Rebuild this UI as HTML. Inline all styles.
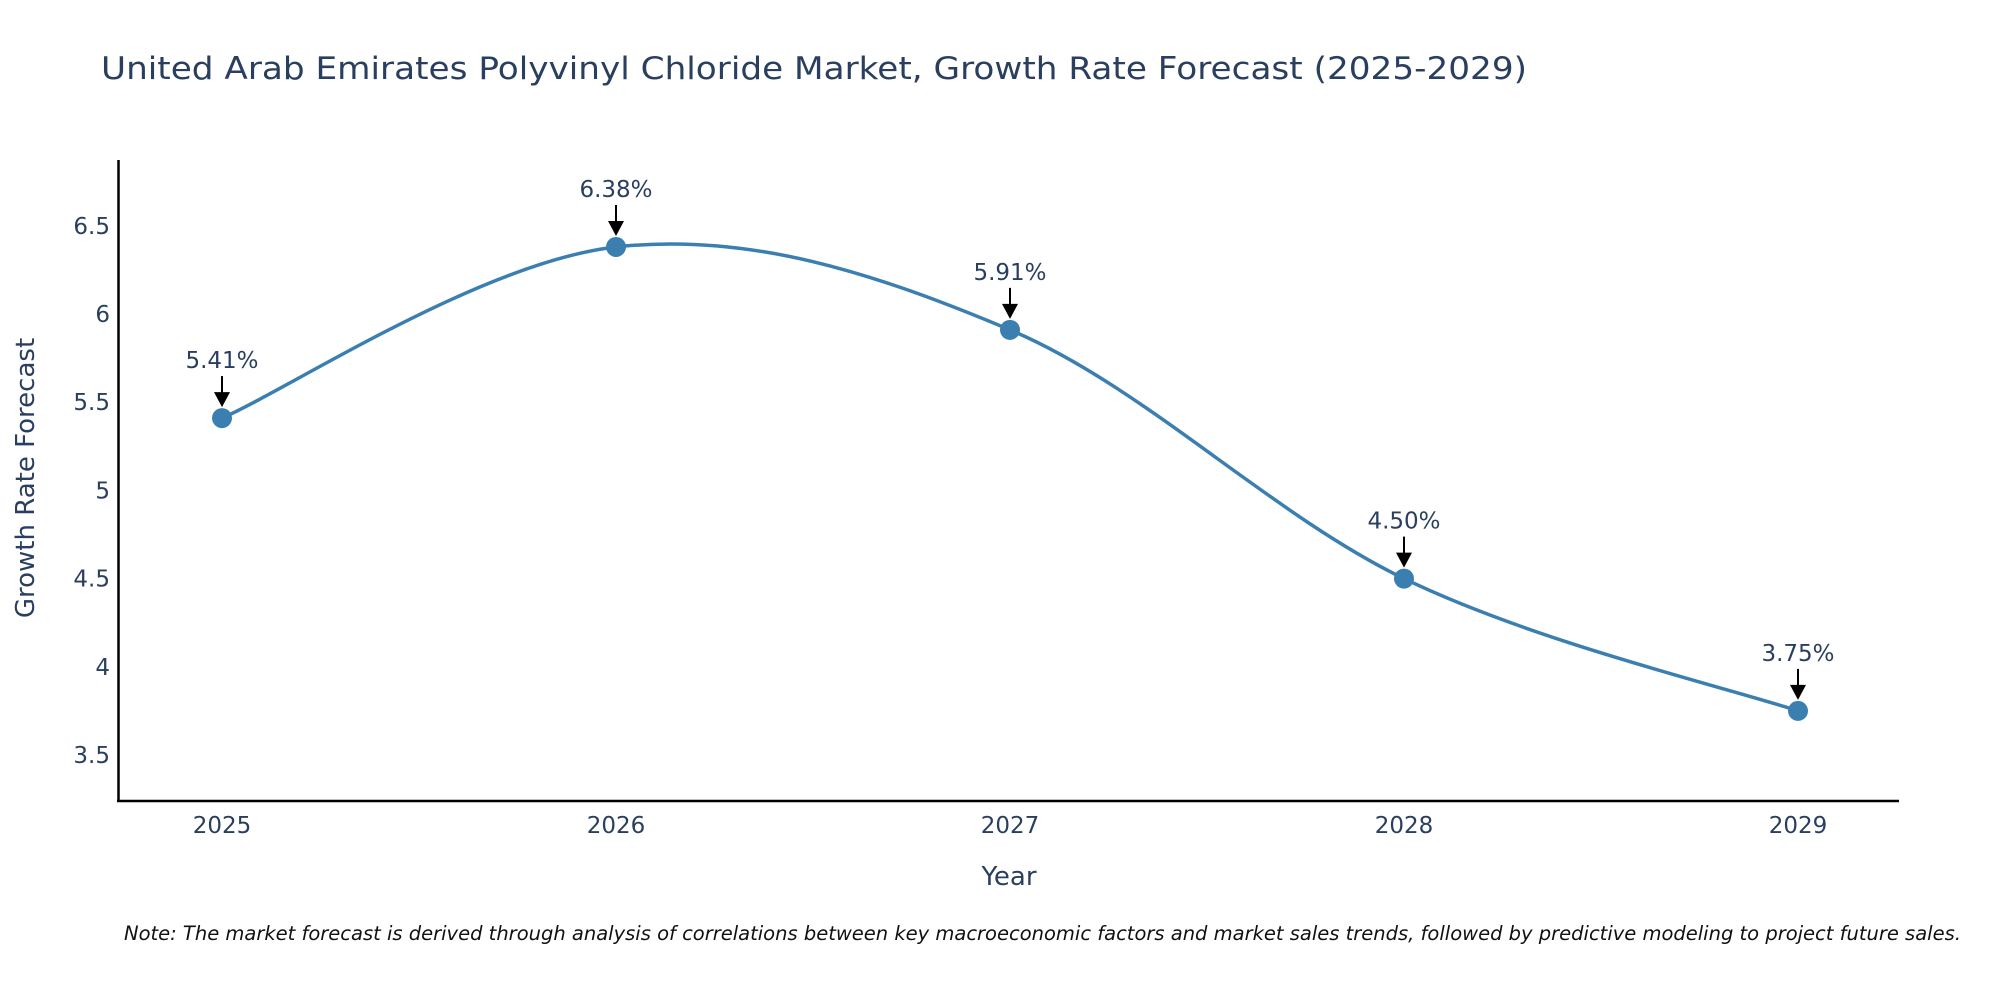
<!DOCTYPE html>
<html><head><meta charset="utf-8"><style>
html,body{margin:0;padding:0;background:#fff;}
svg{display:block;font-family:"DejaVu Sans","Liberation Sans",sans-serif;}
</style></head><body>
<svg id="chart" width="2000" height="1000" viewBox="0 0 2000 1000">
<text x="101" y="79" font-size="31" fill="#2a3f5f" textLength="1426" lengthAdjust="spacingAndGlyphs">United Arab Emirates Polyvinyl Chloride Market, Growth Rate Forecast (2025-2029)</text>
<g id="yticks"></g>
<g id="xticks"></g>
<line x1="118.5" y1="160" x2="118.5" y2="802" stroke="#000" stroke-width="2.5"/>
<line x1="117" y1="801" x2="1899" y2="801" stroke="#000" stroke-width="2.5"/>
<path id="line" fill="none" stroke="#3b7fb0" stroke-width="3.5"/>
<g id="points"></g>
<g id="annos"></g>
<text x="1009" y="885" font-size="26" fill="#2a3f5f" text-anchor="middle">Year</text>
<text transform="translate(34,478) rotate(-90)" font-size="26" fill="#2a3f5f" text-anchor="middle">Growth Rate Forecast</text>
<text x="124" y="940" font-size="19.5" font-style="italic" fill="#111">Note: The market forecast is derived through analysis of correlations between key macroeconomic factors and market sales trends, followed by predictive modeling to project future sales.</text>
</svg>
<script>
const years = ["2025","2026","2027","2028","2029"];
const values = [5.41, 6.38, 5.91, 4.50, 3.75];
const yTickValues = [3.5, 4, 4.5, 5, 5.5, 6, 6.5];
const yTickLabels = ["3.5","4","4.5","5","5.5","6","6.5"];

const NS = "http://www.w3.org/2000/svg";
function xs(i){ return 222 + i * (1798 - 222) / (years.length - 1); }
function ys(v){ return 755 - (v - 3.5) * (755 - 225.8) / 3; }
function mk(tag, attrs, parent){ const e = document.createElementNS(NS, tag); for (const k in attrs) e.setAttribute(k, attrs[k]); parent.appendChild(e); return e; }

const yt = document.getElementById('yticks');
yTickValues.forEach((v, i) => {
  const t = mk('text', {x: 110, y: ys(v) + 8, 'font-size': 23, fill: '#2a3f5f', 'text-anchor': 'end'}, yt);
  t.textContent = yTickLabels[i];
  
  
});
const xt = document.getElementById('xticks');
years.forEach((y, i) => {
  const t = mk('text', {x: xs(i), y: 833, 'font-size': 23, fill: '#2a3f5f', 'text-anchor': 'middle'}, xt);
  t.textContent = y;
  
  
});

const pts = values.map((v, i) => [xs(i), ys(v)]);
let d = `M${pts[0][0]},${pts[0][1]}`;
const k = 0.17;
for (let i = 0; i < pts.length - 1; i++) {
  const p0 = pts[Math.max(0, i - 1)], p1 = pts[i], p2 = pts[i + 1], p3 = pts[Math.min(pts.length - 1, i + 2)];
  const c1 = [p1[0] + (p2[0] - p0[0]) * k, p1[1] + (p2[1] - p0[1]) * k];
  const c2 = [p2[0] - (p3[0] - p1[0]) * k, p2[1] - (p3[1] - p1[1]) * k];
  d += ` C${c1[0]},${c1[1]} ${c2[0]},${c2[1]} ${p2[0]},${p2[1]}`;
}
document.getElementById('line').setAttribute('d', d);

const pg = document.getElementById('points');
const ag = document.getElementById('annos');
pts.forEach((p, i) => {
  const c = mk('circle', {cx: p[0], cy: p[1], r: 10, fill: '#3b7fb0'}, pg);
  
  
  const g = mk('g', {}, ag);
  
  
  mk('line', {x1: p[0], y1: p[1] - 42, x2: p[0], y2: p[1] - 24, stroke: '#000', 'stroke-width': 2}, g);
  mk('polygon', {points: `${p[0]-8},${p[1]-26} ${p[0]+8},${p[1]-26} ${p[0]},${p[1]-11}`, fill: '#000'}, g);
  const t = mk('text', {x: p[0], y: p[1] - 50, 'font-size': 23, fill: '#2a3f5f', 'text-anchor': 'middle'}, g);
  t.textContent = values[i].toFixed(2) + '%';
});
</script>
</body></html>
